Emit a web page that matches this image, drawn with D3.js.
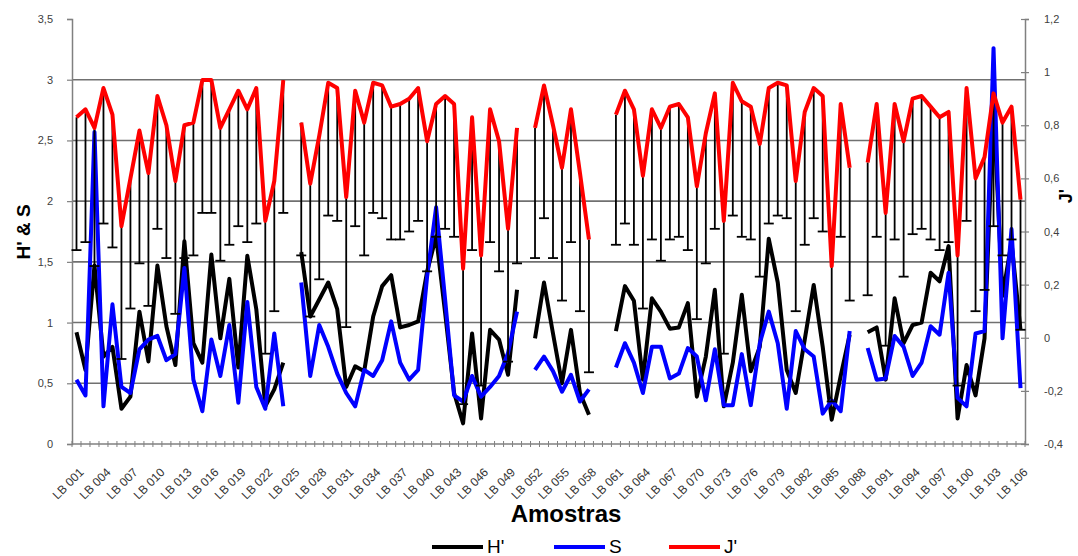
<!DOCTYPE html>
<html><head><meta charset="utf-8">
<script src="https://cdn.jsdelivr.net/npm/d3@7"></script>
<style>
body{margin:0;background:#fff}
text{font-family:Arial,"Liberation Sans",sans-serif}
</style>
</head><body>
<svg id="chart" width="1078" height="556"></svg>
<script>
// ---- data ----
const categories = d3.range(1, 107).map(n => "LB " + String(n).padStart(3, "0"));
const leftTicks = [0, 0.5, 1, 1.5, 2, 2.5, 3, 3.5];
const rightTicks = [-0.4, -0.2, 0, 0.2, 0.4, 0.6, 0.8, 1, 1.2];
const gridValues = [0.5, 1, 1.5, 2, 2.5, 3];

const hValues = [0.92,0.61,1.47,0.72,0.80,0.29,0.39,1.09,0.68,1.47,
 0.97,0.65,1.67,0.83,0.67,1.56,0.87,1.36,0.63,1.55,
 1.11,0.31,0.45,0.67,null,1.58,1.05,1.19,1.33,1.11,
 0.47,0.64,0.60,1.05,1.30,1.39,0.96,0.98,1.01,1.42,
 1.71,1.08,0.42,0.17,0.91,0.21,0.94,0.86,0.57,1.27,
 null,0.87,1.33,0.91,0.50,0.94,0.42,0.24,null,null,
 0.93,1.30,1.18,0.53,1.20,1.09,0.95,0.96,1.16,0.39,
 0.72,1.27,0.31,0.67,1.23,0.60,0.80,1.69,1.33,0.61,
 0.42,0.86,1.31,0.80,0.20,0.56,0.90,null,0.92,0.96,
 0.53,1.20,0.83,0.98,1.00,1.41,1.34,1.63,0.21,0.65,
 0.40,0.87,2.76,1.22,1.66,0.94];

const sValues = [0.53,0.40,2.57,0.31,1.15,0.47,0.42,0.78,0.86,0.89,
 0.69,0.74,1.45,0.53,0.27,0.86,0.56,0.98,0.34,1.17,
 0.47,0.29,0.91,0.31,null,1.33,0.56,0.98,0.80,0.58,
 0.42,0.31,0.61,0.56,0.69,1.01,0.67,0.53,0.61,1.38,
 1.95,1.19,0.40,0.35,0.56,0.39,0.47,0.56,0.75,1.09,
 null,0.61,0.72,0.60,0.43,0.57,0.35,0.45,null,null,
 0.63,0.83,0.67,0.42,0.80,0.80,0.54,0.58,0.79,0.72,
 0.36,0.78,0.32,0.32,0.74,0.32,0.83,1.09,0.83,0.29,
 0.93,0.78,0.72,0.25,0.36,0.27,0.93,null,0.79,0.53,
 0.54,0.89,0.80,0.56,0.67,0.97,0.90,1.41,0.38,0.31,
 0.91,0.93,3.26,0.87,1.77,0.46];

const jValues = [0.83,0.86,0.79,0.94,0.84,0.42,0.60,0.78,0.62,0.91,
 0.80,0.59,0.80,0.81,0.97,0.97,0.79,0.86,0.93,0.86,
 0.94,0.44,0.59,0.97,null,0.81,0.58,0.76,0.96,0.94,
 0.53,0.93,0.81,0.96,0.95,0.87,0.88,0.90,0.94,0.74,
 0.88,0.91,0.88,0.26,0.83,0.31,0.86,0.74,0.41,0.79,
 null,0.79,0.95,0.80,0.64,0.86,0.62,0.37,null,null,
 0.84,0.93,0.86,0.61,0.86,0.79,0.87,0.88,0.83,0.57,
 0.77,0.92,0.44,0.96,0.89,0.87,0.73,0.94,0.96,0.95,
 0.59,0.85,0.94,0.91,0.27,0.88,0.64,null,0.66,0.88,
 0.47,0.88,0.74,0.90,0.91,0.87,0.83,0.85,0.31,0.94,
 0.60,0.68,0.92,0.81,0.87,0.52];

// lower end of the J' error bars
const jLower = [0.33,0.36,0.27,0.43,0.34,-0.08,0.11,0.28,0.12,0.41,
 0.30,0.09,0.30,0.31,0.47,0.47,0.29,0.35,0.42,0.36,
 0.43,-0.06,0.10,0.47,null,0.31,0.08,0.22,0.46,0.44,
 0.04,0.42,0.31,0.47,0.45,0.37,0.37,0.40,0.44,0.25,
 0.38,0.41,0.38,-0.25,0.33,-0.18,0.36,0.25,-0.09,0.28,
 null,0.30,0.45,0.30,0.14,0.36,0.10,-0.13,null,null,
 0.35,0.43,0.35,0.11,0.37,0.29,0.37,0.38,0.33,0.07,
 0.28,0.41,-0.06,0.46,0.38,0.37,0.23,0.43,0.46,0.45,
 0.10,0.35,0.45,0.40,-0.24,0.38,0.14,null,0.16,0.38,
 -0.03,0.37,0.23,0.39,0.41,0.37,0.33,0.36,-0.18,0.44,
 0.10,0.18,0.42,0.31,0.37,0.03];

const seriesNames = ["H'", "S", "J'"];
const seriesColors = ["#000000", "#0000ff", "#ff0000"];

// ---- layout ----
const L = 72, R = 1025, T = 19, B = 444;
const svg = d3.select("#chart");
const x = d3.scaleBand().domain(categories).range([L, R]).paddingInner(0).paddingOuter(0);
const xc = c => x(c) + x.bandwidth() / 2;
const yL = d3.scaleLinear().domain([0, 3.5]).range([B, T]);
const yR = d3.scaleLinear().domain([-0.4, 1.2]).range([B, T]);
const fmt = d => String(d).replace(".", ",");

// grid
svg.append("g").selectAll("line").data(gridValues).join("line")
  .attr("x1", L).attr("x2", R)
  .attr("y1", d => yL(d)).attr("y2", d => yL(d))
  .attr("stroke", "#707070").attr("stroke-width", 1.6);

// left axis
const gL = svg.append("g").attr("transform", `translate(${L},0)`)
  .call(d3.axisLeft(yL).tickValues(leftTicks).tickFormat(fmt).tickSize(5).tickPadding(14));
gL.select(".domain").attr("stroke", "#808080").attr("stroke-width", 1.5);
gL.selectAll(".tick line").attr("stroke", "#808080").attr("stroke-width", 1.2);
gL.selectAll(".tick text").attr("font-size", 11).attr("fill", "#404040").attr("font-family", "Arial");

// right axis
const gR = svg.append("g").attr("transform", `translate(${R},0)`)
  .call(d3.axisRight(yR).tickValues(rightTicks).tickFormat(fmt).tickSize(4).tickPadding(15));
gR.select(".domain").attr("stroke", "#808080").attr("stroke-width", 1.5);
gR.selectAll(".tick line").attr("x1", -4).attr("stroke", "#808080").attr("stroke-width", 1.2);
gR.selectAll(".tick text").attr("font-size", 11).attr("fill", "#404040").attr("font-family", "Arial");

// bottom axis
const gB = svg.append("g").attr("transform", `translate(0,${B})`);
gB.append("line").attr("x1", L).attr("x2", R).attr("stroke", "#808080").attr("stroke-width", 1.5);
const bounds = categories.map(c => x(c)).concat([R]);
gB.selectAll("line.tk").data(bounds).join("line").attr("class", "tk")
  .attr("x1", d => d).attr("x2", d => d).attr("y1", -3).attr("y2", 3)
  .attr("stroke", "#808080").attr("stroke-width", 1);
const labelCats = categories.filter((c, i) => i % 3 === 0);
gB.selectAll("text").data(labelCats).join("text")
  .attr("transform", c => `translate(${xc(c) + 2},${23}) rotate(-45)`)
  .attr("text-anchor", "end").attr("dy", "0.71em")
  .attr("font-size", 12).attr("fill", "#333")
  .text(c => c);

// lines
const mk = (vals, ys) => d3.line().defined(d => d.v !== null)
  .x(d => xc(d.c)).y(d => ys(d.v))(categories.map((c, i) => ({c, v: vals[i]})));

svg.append("path").attr("d", mk(hValues, yL)).attr("fill", "none")
  .attr("stroke", seriesColors[0]).attr("stroke-width", 4).attr("stroke-linejoin", "round");
svg.append("path").attr("d", mk(sValues, yL)).attr("fill", "none")
  .attr("stroke", seriesColors[1]).attr("stroke-width", 4).attr("stroke-linejoin", "round");

// error bars
const eb = categories.map((c, i) => ({c, v: jValues[i], lo: jLower[i]})).filter(d => d.v !== null && d.lo !== null);
const gE = svg.append("g").attr("stroke", "#000").attr("stroke-width", 1.8);
gE.selectAll("line.v").data(eb).join("line").attr("class", "v")
  .attr("x1", d => xc(d.c)).attr("x2", d => xc(d.c))
  .attr("y1", d => yR(d.v)).attr("y2", d => yR(d.lo));
gE.selectAll("line.cap").data(eb).join("line").attr("class", "cap")
  .attr("x1", d => xc(d.c) - 5).attr("x2", d => xc(d.c) + 5)
  .attr("y1", d => yR(d.lo)).attr("y2", d => yR(d.lo));

svg.append("path").attr("d", mk(jValues, yR)).attr("fill", "none")
  .attr("stroke", seriesColors[2]).attr("stroke-width", 4).attr("stroke-linejoin", "round");

// titles
svg.append("text").attr("transform", "translate(30,232) rotate(-90)")
  .attr("text-anchor", "middle").attr("font-size", 19).attr("font-weight", "bold").text("H' & S");
svg.append("text").attr("transform", "translate(1072,196) rotate(-90)")
  .attr("text-anchor", "middle").attr("font-size", 18).attr("font-weight", "bold").text("J'");
svg.append("text").attr("x", 566).attr("y", 522)
  .attr("text-anchor", "middle").attr("font-size", 24).attr("font-weight", "bold").text("Amostras");

// legend
const legX = [432, 554, 669];
const lg = svg.append("g");
seriesNames.forEach((n, i) => {
  lg.append("line").attr("x1", legX[i]).attr("x2", legX[i] + 51).attr("y1", 547).attr("y2", 547)
    .attr("stroke", seriesColors[i]).attr("stroke-width", 4);
  lg.append("text").attr("x", legX[i] + 55).attr("y", 553).attr("font-size", 19).text(n);
});
</script>
</body></html>
